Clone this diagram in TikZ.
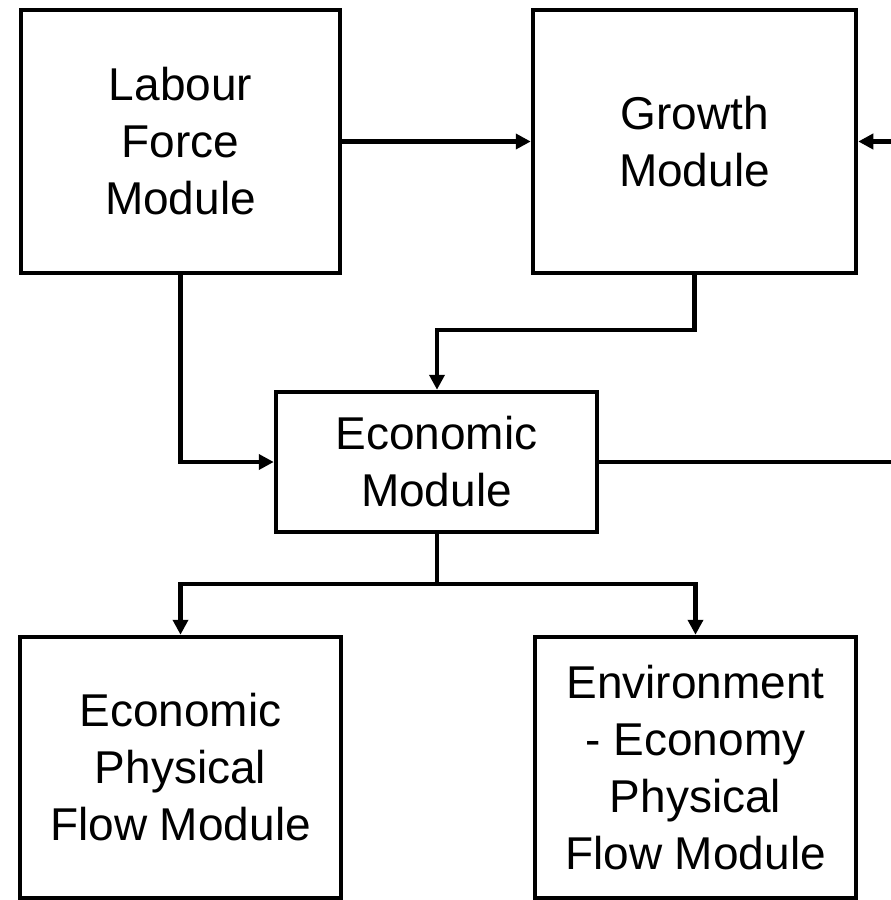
\documentclass[tikz,border=0pt]{standalone}
\usepackage{fontspec}
\setmainfont{Liberation Sans}
\usetikzlibrary{arrows.meta}
\begin{document}
\begin{tikzpicture}[x=1pt,y=-1pt,
  modbox/.style={draw=black,line width=4.5pt,rectangle,align=center,inner sep=0pt,
    font=\fontsize{46}{57}\selectfont},
  conn/.style={line width=4.5pt,draw=black},
  arr/.style={conn,-{Triangle[length=15pt,width=15pt]}}]
\useasboundingbox (0,0) rectangle (891,900);
\node[modbox,minimum width=319pt,minimum height=263pt] (labour) at (180.5,141.5) {Labour\\Force\\Module};
\node[modbox,minimum width=323pt,minimum height=263pt] (growth) at (694.5,141.5) {Growth\\Module};
\node[modbox,minimum width=321pt,minimum height=140pt] (econ) at (436.5,462) {Economic\\Module};
\node[modbox,minimum width=321pt,minimum height=261pt] (epf) at (180.5,767.5) {Economic\\Physical\\Flow Module};
\node[modbox,minimum width=321pt,minimum height=261pt] (env) at (695.5,767.5) {Environment\\- Economy\\Physical\\Flow Module};
\coordinate (rin) at (893,141.5);
\coordinate (rout) at (893,462);
\coordinate (split) at (437,584);
\draw[arr] (labour.east) -- (growth.west);
\draw[arr] (rin) -- (growth.east);
\draw[arr] (labour.south) |- (econ.west);
\draw[arr] (growth.south) |- (437,330) -- (econ.north -| 437,0);
\draw[conn] (econ.east) -- (rout);
\draw[conn] (econ.south -| split) -- (split);
\draw[arr] (split) -| (epf.north);
\draw[arr] (split) -| (env.north);
\end{tikzpicture}
\end{document}
